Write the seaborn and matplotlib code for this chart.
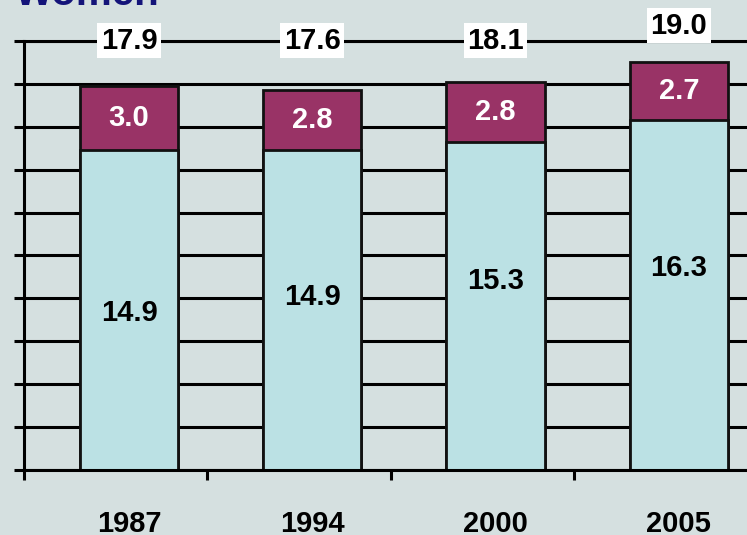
import matplotlib
matplotlib.use("Agg")
import matplotlib.pyplot as plt
import seaborn as sns

# values
years = ["1987", "1994", "2000", "2005"]
base = [14.9, 14.9, 15.3, 16.3]
extra = [3.0, 2.8, 2.8, 2.7]
totals = [17.9, 17.6, 18.1, 19.0]

bg = "#d5e0e0"
cyan = "#bbe1e4"
maroon = "#993366"
navy = "#14147a"

sns.set_style("white")
plt.rcParams["font.family"] = ["Liberation Sans", "DejaVu Sans"]
plt.rcParams["font.weight"] = "bold"
plt.rcParams["text.color"] = "black"
plt.rcParams["xtick.color"] = "black"
plt.rcParams["ytick.color"] = "black"

fig = plt.figure(figsize=(7.47, 5.35), dpi=100, facecolor=bg)
ax = fig.add_axes([24 / 747, 65 / 535, 733 / 747, 429 / 535])
ax.set_facecolor(bg)

stacked = [b + e for b, e in zip(base, extra)]
sns.barplot(x=years, y=stacked, color=maroon, saturation=1, width=0.535,
            edgecolor="#111111", linewidth=2, ax=ax)
sns.barplot(x=years, y=base, color=cyan, saturation=1, width=0.535,
            edgecolor="#111111", linewidth=2, ax=ax)

# axes limits / ticks
shift = 0.573
ax.set_xlim(-shift, -shift + 733 / 183.3)
ax.set_ylim(0, 20)
ax.set_yticks(range(0, 21, 2))
ax.set_yticklabels([])
ax.set_xticks([i - shift for i in range(5)], minor=True)
ax.tick_params(axis="x", which="major", length=0, pad=29, labelsize=21,
               labelcolor="black")
ax.tick_params(axis="x", which="minor", length=7.5, width=2.2, color="black",
               direction="out", bottom=True)
ax.tick_params(axis="y", length=7.5, width=2.2, color="black",
               direction="out", left=True)
for lab in ax.get_xticklabels():
    lab.set_fontweight("bold")
    lab.set_color("black")
ax.set_xlabel("")

ax.yaxis.grid(True, color="black", linewidth=2.2)
ax.set_axisbelow(True)
for side in ["left", "bottom", "top"]:
    ax.spines[side].set_visible(True)
    ax.spines[side].set_color("black")
    ax.spines[side].set_linewidth(2.2)
ax.spines["right"].set_visible(False)

# labels
inner_frac = [0.49, 0.54, 0.575, 0.577]
for i in range(len(years)):
    ax.text(i, base[i] * inner_frac[i], f"{base[i]:.1f}", ha="center",
            va="center", fontsize=21, fontweight="bold", color="black", zorder=5)
    ax.text(i, base[i] + extra[i] / 2, f"{extra[i]:.1f}", ha="center",
            va="center", fontsize=21, fontweight="bold", color="white", zorder=5)
    ax.text(i, max(totals[i] + 1.7, 20), f"{totals[i]:.1f}", ha="center",
            va="center", fontsize=21, fontweight="bold", color="black", zorder=6,
            clip_on=False,
            bbox=dict(boxstyle="square,pad=0.12", facecolor="white", edgecolor="none"))

fig.text(15 / 747, 1 - 5 / 535, "Women", ha="left", va="baseline",
         fontsize=29, fontweight="bold", color=navy)

fig.savefig("out.png", dpi=100, facecolor=bg)
